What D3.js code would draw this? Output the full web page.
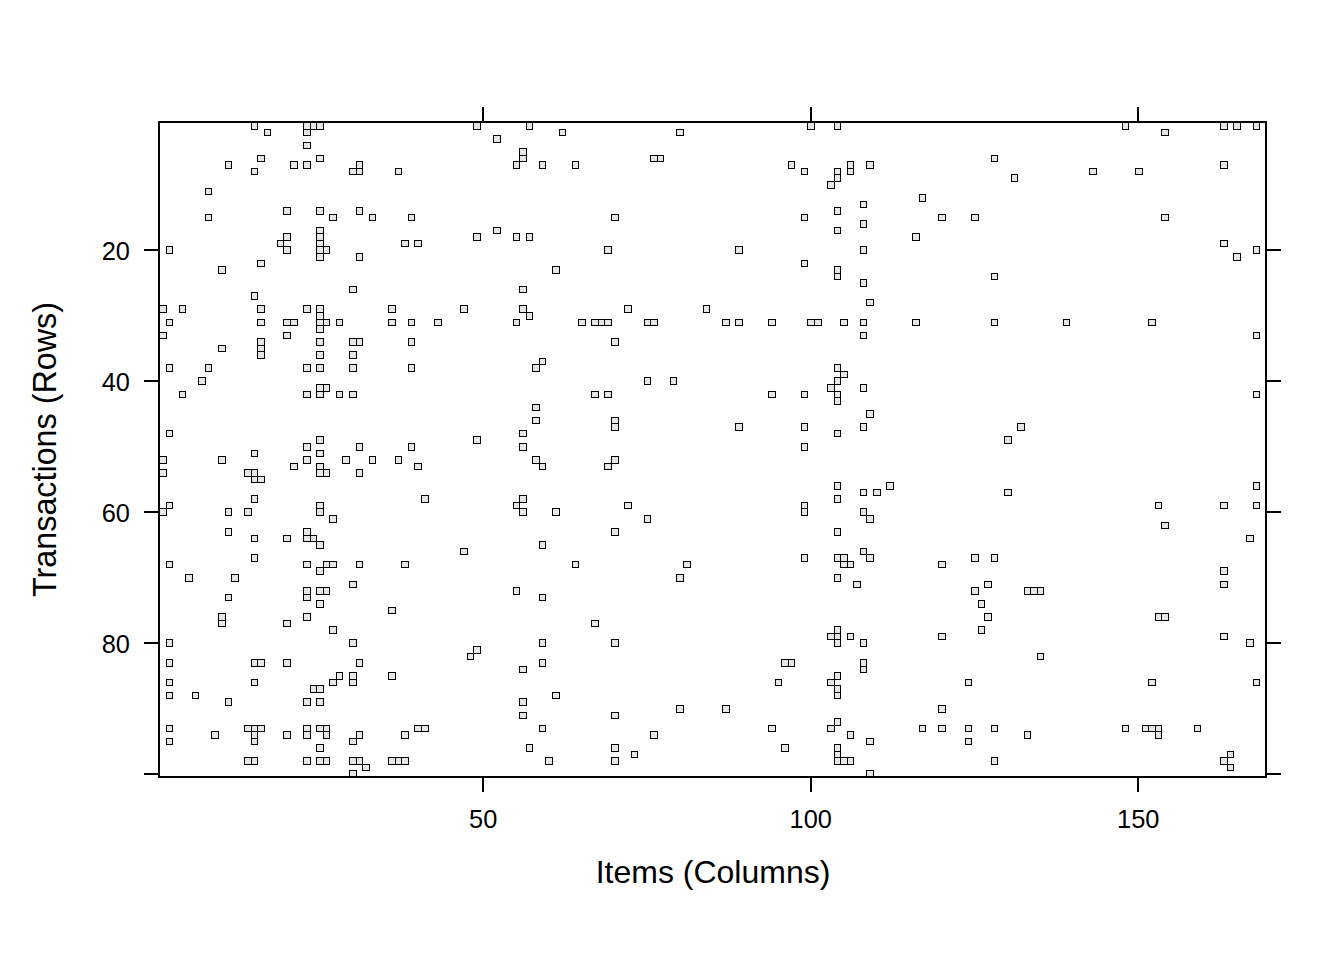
<!DOCTYPE html>
<html>
<head>
<meta charset="utf-8">
<script src="https://cdn.jsdelivr.net/npm/d3@7"></script>
<style>
html,body{margin:0;padding:0;background:#fff;}
svg{display:block;}
text{font-family:"Liberation Sans",Arial,sans-serif;fill:#000;}
</style>
</head>
<body>
<svg id="chart" width="1344" height="960"></svg>
<script>
const xTicks = [50, 100, 150];
const yTicks = [20, 40, 60, 80, 100];
const yTickLabels = ["20", "40", "60", "80", ""];
const xTitle = "Items (Columns)";
const yTitle = "Transactions (Rows)";
const itemCount = 169;
const transactionCount = 100;

const itemsByRow = [
[15,23,24,25,49,57,100,104,148,163,165,168],
[17,23,62,80,154],
[52],
[23],
[56],
[16,25,56,76,77,128],
[11,21,23,31,55,59,64,97,106,109,163],
[15,30,31,37,99,104,106,143,150],
[104,131],
[103],
[8],
[117],
[108],
[20,25,31,104],
[8,27,33,39,70,99,120,125,154],
[108],
[25,52,104],
[20,25,49,55,57,116],
[19,25,38,40,163],
[2,20,25,26,69,89,108,168],
[25,31,165],
[16,99],
[10,61,104],
[104,128],
[108],
[30,56],
[15],
[109],
[1,4,16,23,25,36,47,56,72,84],
[25,57],
[2,16,20,21,25,26,28,36,39,43,55,65,67,68,69,75,76,87,89,94,100,101,105,108,116,128,139,152],
[25],
[1,20,108,168],
[16,25,30,31,39,70],
[10,16],
[16,25,30],
[59],
[2,8,23,25,30,39,58,104],
[105],
[7,75,79,104],
[25,26,103,108],
[4,23,25,28,30,67,69,94,99,104,168],
[104],
[58],
[109],
[58,70],
[70,89,99,108,132],
[2,56,104],
[25,49,130],
[23,31,39,56,99],
[15,25],
[1,10,23,29,33,37,58,70],
[21,25,40,59,69],
[1,14,15,25,26,31],
[15,16],
[104,112,168],
[108,110,130],
[15,41,56,104],
[2,25,55,72,99,153,163,168],
[1,11,14,25,56,61,99,108],
[27,75,109],
[154],
[11,23,70,104],
[15,20,23,24,167],
[25,59],
[47,108],
[15,99,104,105,109,125,128],
[2,23,26,27,31,38,64,81,105,106,120],
[25,163],
[5,12,80,104],
[30,107,127,163],
[23,25,26,55,125,133,134,135],
[11,23,59],
[25,126],
[36],
[10,23,127,153,154],
[10,20,67],
[27,104,126],
[103,104,106,120,163],
[2,30,59,70,104,108,167],
[49],
[48,135],
[2,15,16,20,31,59,96,97,108],
[56,108],
[28,30,36,104],
[2,15,27,30,95,103,124,152,168],
[24,25,104],
[2,6,61,104],
[11,23,25,56],
[80,87,120],
[56,70],
[104],
[2,14,15,16,23,25,26,40,41,59,94,103,117,120,124,128,148,151,152,153,159],
[9,15,20,23,26,31,38,76,106,133,153],
[2,15,30,109,124],
[25,57,70,96,104],
[73,104,164],
[14,15,23,25,26,30,31,36,37,38,60,70,104,105,106,128,163],
[32,164],
[30,109]
];

const panelLeft = 159, panelRight = 1266, panelTop = 122, panelBottom = 777;
const tickLength = 15;
const tickFontSize = 25.4;

const x = d3.scaleLinear().domain([0.5, itemCount + 0.5]).range([panelLeft, panelRight]);
const y = d3.scaleLinear().domain([0.5, transactionCount + 0.5]).range([panelTop, panelBottom]);

const svg = d3.select("#chart");
const cells = itemsByRow.flatMap((items, i) => items.map(item => ({ item, row: i + 1 })));

svg.append("defs").append("clipPath").attr("id", "panel")
  .append("rect").attr("x", panelLeft).attr("y", panelTop)
  .attr("width", panelRight - panelLeft).attr("height", panelBottom - panelTop);

svg.append("g").attr("clip-path", "url(#panel)")
  .selectAll("rect").data(cells).join("rect")
  .attr("x", d => Math.round(x(d.item - 0.5)) + 0.5)
  .attr("y", d => Math.round(y(d.row - 0.5)) + 0.5)
  .attr("width", d => Math.round(x(d.item + 0.5)) - Math.round(x(d.item - 0.5)))
  .attr("height", d => Math.round(y(d.row + 0.5)) - Math.round(y(d.row - 0.5)))
  .attr("fill", "#e6e6e6")
  .attr("stroke", "#000")
  .attr("stroke-width", 1)
  .attr("shape-rendering", "crispEdges");

function styleAxis(g) {
  g.select(".domain").remove();
  g.selectAll(".tick line").attr("stroke", "#000").attr("stroke-width", 2)
    .attr("shape-rendering", "crispEdges");
}

svg.append("g").attr("transform", `translate(0,${panelBottom})`)
  .call(d3.axisBottom(x).offset(0).tickValues(xTicks).tickSize(tickLength).tickPadding(18))
  .call(styleAxis)
  .selectAll("text").attr("font-size", tickFontSize).attr("font-family", '"Liberation Sans",Arial,sans-serif');

svg.append("g").attr("transform", `translate(0,${panelTop})`)
  .call(d3.axisTop(x).offset(0).tickValues(xTicks).tickSize(tickLength).tickFormat(""))
  .call(styleAxis);

svg.append("g").attr("transform", `translate(${panelLeft},0)`)
  .call(d3.axisLeft(y).offset(0).tickValues(yTicks).tickSize(tickLength).tickPadding(14)
    .tickFormat((d, i) => yTickLabels[i]))
  .call(styleAxis)
  .selectAll("text").attr("font-size", tickFontSize).attr("dy", "0.39em")
  .attr("font-family", '"Liberation Sans",Arial,sans-serif');

svg.append("g").attr("transform", `translate(${panelRight},0)`)
  .call(d3.axisRight(y).offset(0).tickValues(yTicks).tickSize(tickLength).tickFormat(""))
  .call(styleAxis);

svg.append("rect")
  .attr("x", panelLeft).attr("y", panelTop)
  .attr("width", panelRight - panelLeft).attr("height", panelBottom - panelTop)
  .attr("fill", "none").attr("stroke", "#000").attr("stroke-width", 2);

svg.append("text")
  .attr("x", (panelLeft + panelRight) / 2 + 0.5).attr("y", 883)
  .attr("text-anchor", "middle").attr("font-size", 32)
  .text(xTitle);

svg.append("text")
  .attr("transform", `translate(56,${(panelTop + panelBottom) / 2}) rotate(-90)`)
  .attr("text-anchor", "middle").attr("font-size", 32.3)
  .text(yTitle);
</script>
</body>
</html>
